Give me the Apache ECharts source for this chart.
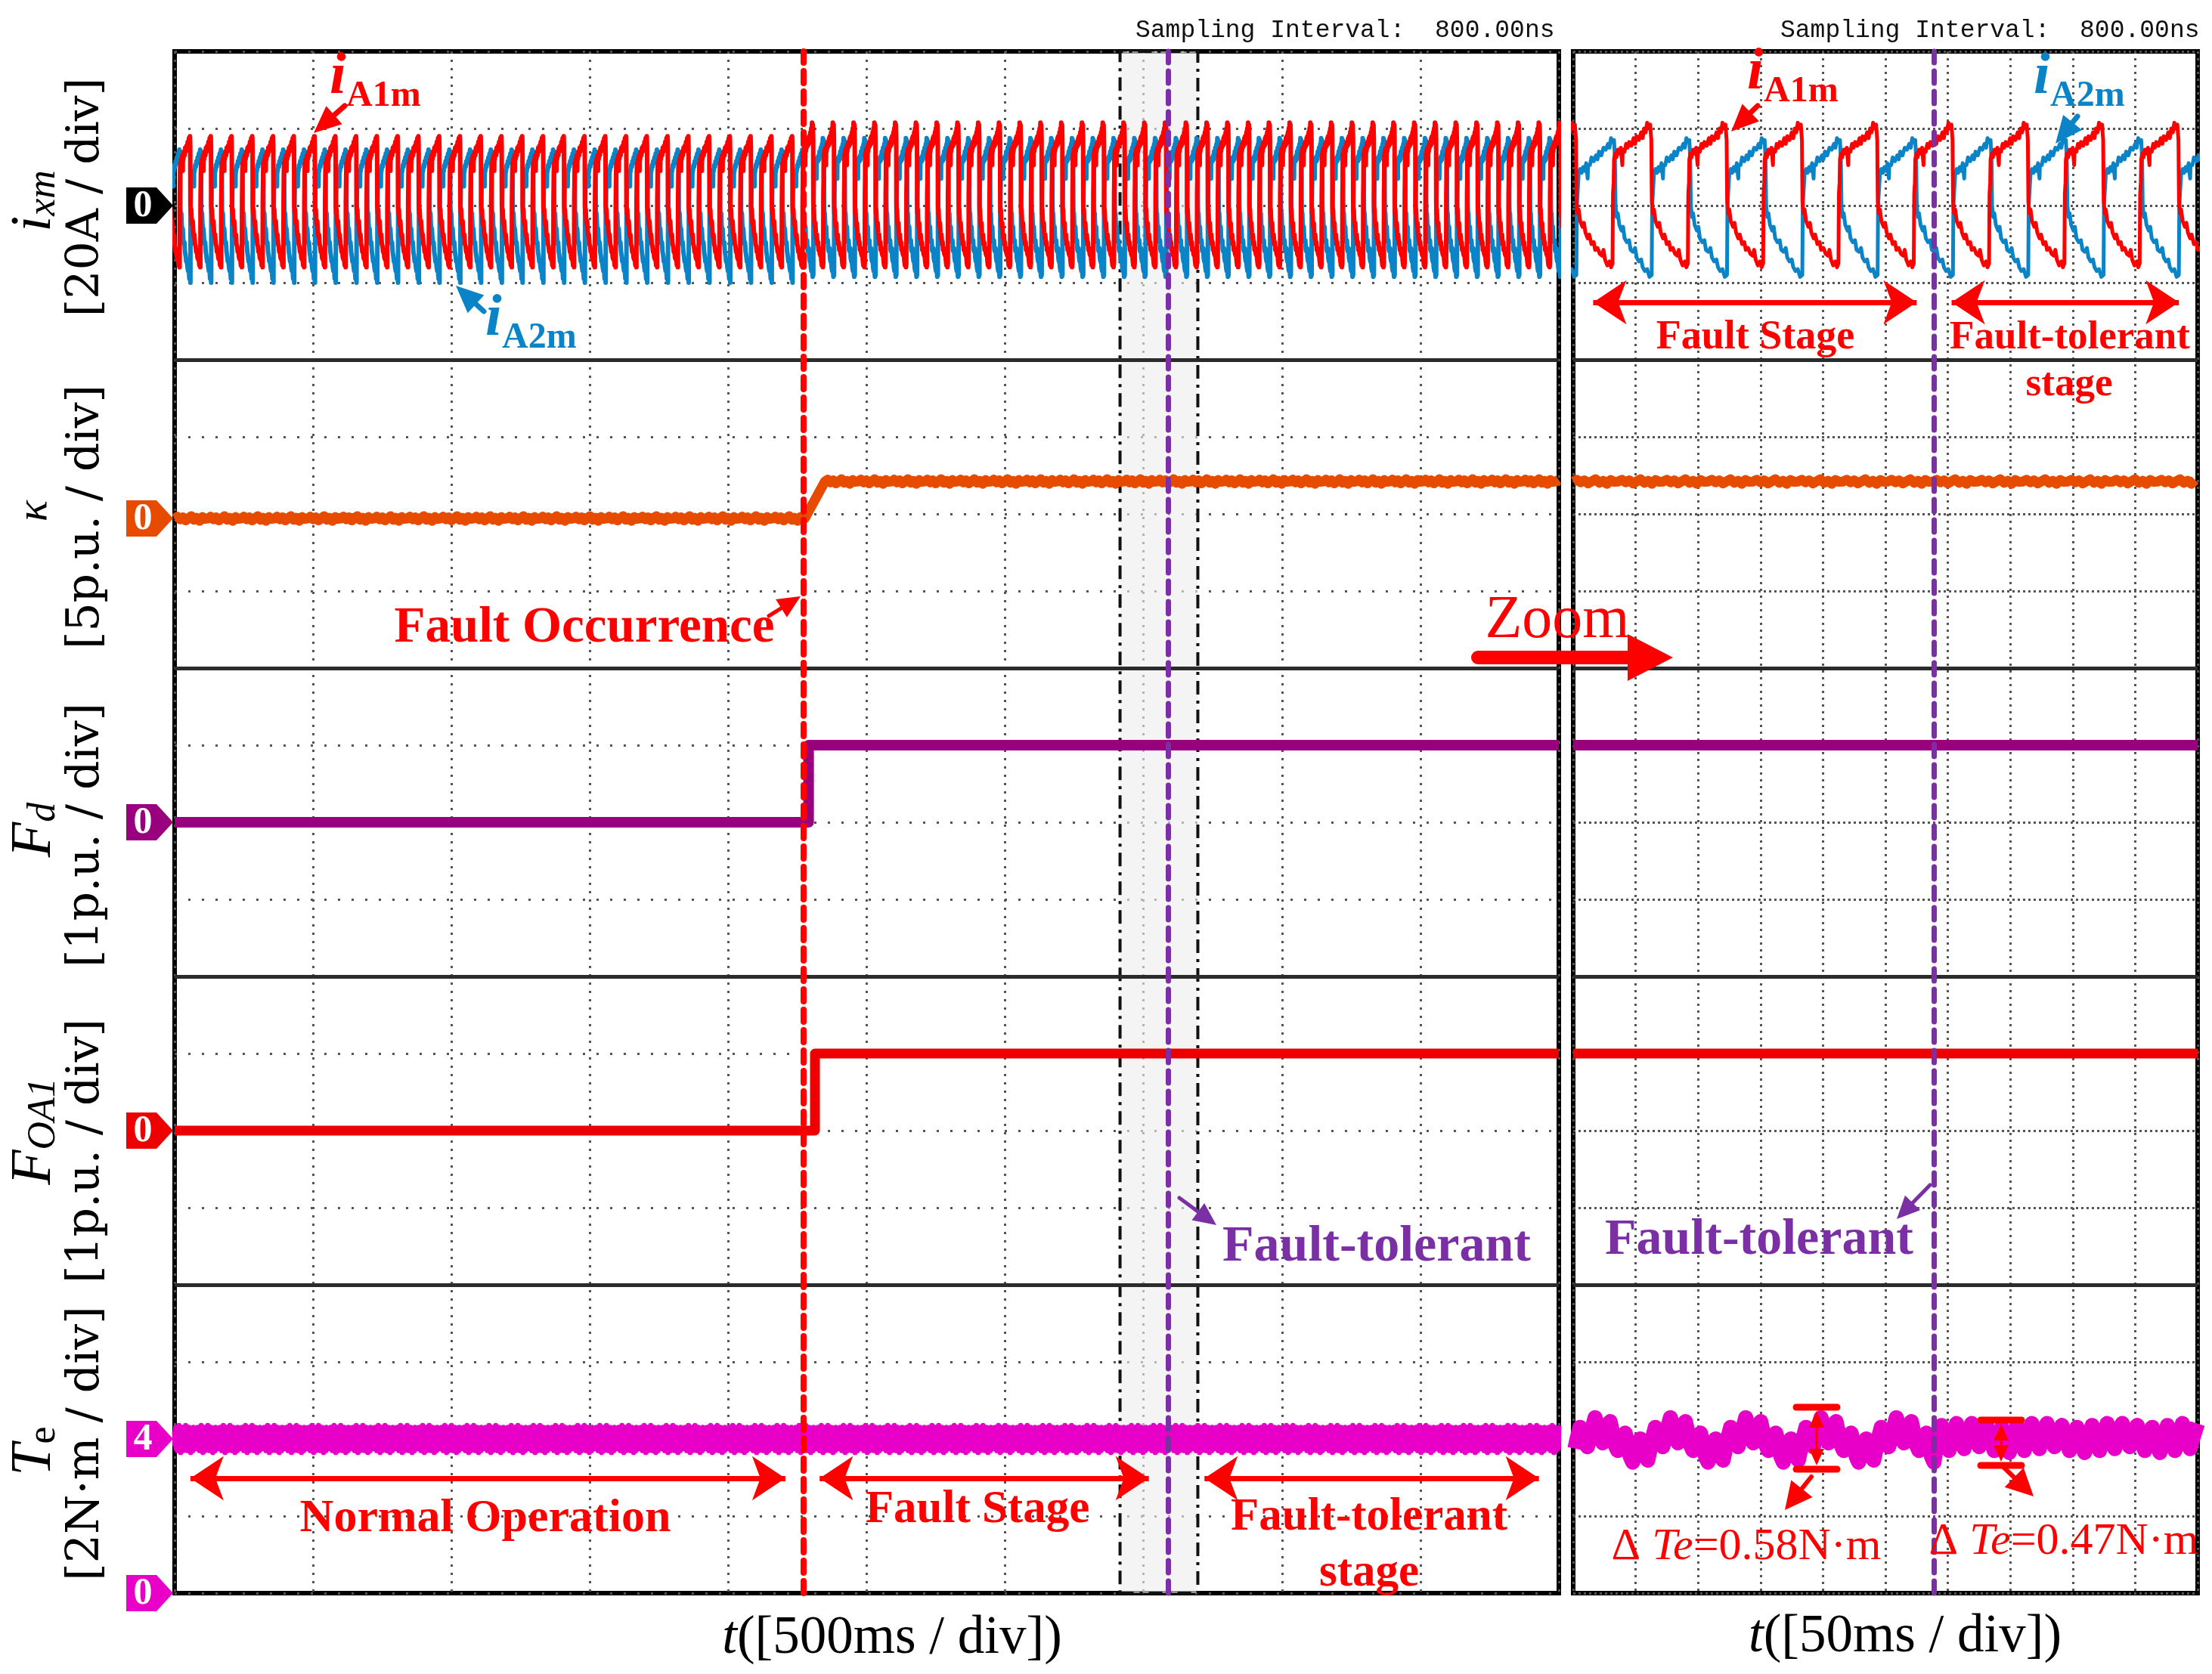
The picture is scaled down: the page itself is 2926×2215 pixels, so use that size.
<!DOCTYPE html>
<html><head><meta charset="utf-8">
<script src="https://cdn.jsdelivr.net/npm/echarts@6/dist/echarts.min.js"></script>
<style>html,body{margin:0;padding:0;background:#fff}#c{width:2926px;height:2215px}</style>
</head><body><div id="c"></div>
<script>
// ================= DATA =================
// time axes, ms
const mainSpanMs = 5000, mainDivMs = 500;
const zoomSpanMs = 500, zoomDivMs = 50;
const faultTimeMain = 2272;        // red dashed line
const tolerantTimeMain = 3590;     // purple dashed line (main)
const tolerantTimeZoom = 289;      // purple dashed line (zoom)
const zoomBoxMain = [3415, 3696];  // dash-dot box

// phase-current cycle shapes: [fraction of period, current in A]
const iA1mPreCycle = [[0,-16],[0.006,1],[0.015,5],[0.025,9],[0.04,11],[0.06,10],[0.08,12],[0.1,11],[0.13,13],[0.15,9],[0.155,12.5],[0.18,12],[0.21,14],[0.24,13],[0.27,15],[0.3,14],[0.33,15.5],[0.36,14.5],[0.39,16.5],[0.42,15.5],[0.45,17.5],[0.48,17],[0.5,18],[0.512,15],[0.52,0],[0.54,-2],[0.56,-1],[0.58,-4],[0.61,-5],[0.63,-4],[0.66,-7],[0.69,-8],[0.71,-7.5],[0.74,-10],[0.77,-10.5],[0.8,-12],[0.83,-11.5],[0.86,-13.5],[0.89,-14],[0.92,-13.5],[0.95,-15.5],[0.98,-15],[1,-16]];
const iA2mPreCycle = [[0,-20],[0.006,-2],[0.015,2],[0.025,5],[0.045,7],[0.07,6],[0.09,8],[0.12,7.5],[0.15,9],[0.17,5],[0.175,8.5],[0.2,9],[0.23,10.5],[0.26,10],[0.29,11.5],[0.32,11],[0.35,12.5],[0.38,12],[0.41,13.5],[0.44,13],[0.47,14.5],[0.5,14],[0.512,10],[0.52,-1],[0.54,-3],[0.56,-2],[0.58,-5],[0.61,-7],[0.63,-6],[0.66,-9],[0.69,-10],[0.71,-9.5],[0.74,-12],[0.77,-13],[0.8,-14.5],[0.83,-14],[0.86,-16],[0.89,-17],[0.92,-16.5],[0.95,-19],[0.98,-18.5],[1,-20]];
const iA1mCycle = [[0,-15],[0.006,3],[0.015,6],[0.02,12],[0.035,13.5],[0.05,12.5],[0.07,14.5],[0.09,13.5],[0.11,15],[0.13,10.5],[0.135,14.5],[0.16,14],[0.18,16],[0.2,15],[0.22,16.5],[0.25,15.5],[0.28,17.5],[0.3,16],[0.32,18],[0.35,17],[0.38,19],[0.4,17.5],[0.42,20],[0.44,19],[0.46,21.5],[0.48,20],[0.5,21],[0.515,17],[0.522,1],[0.535,-2],[0.55,-1],[0.57,-4],[0.6,-5.5],[0.62,-4.5],[0.64,-7],[0.67,-8.5],[0.69,-7.5],[0.72,-10],[0.75,-9.5],[0.77,-11.5],[0.8,-11],[0.83,-12.5],[0.86,-13],[0.88,-11.5],[0.9,-14],[0.93,-15.5],[0.96,-14.5],[0.98,-16],[1,-15]];
const iA2mCycle = [[0,-18],[0.006,0],[0.015,3],[0.03,8],[0.05,9.5],[0.07,8.5],[0.09,10],[0.11,9],[0.13,11],[0.15,7],[0.155,10.5],[0.18,10.5],[0.2,12.5],[0.23,11.5],[0.26,13],[0.28,12],[0.3,14],[0.33,13],[0.36,15],[0.39,14.5],[0.42,16],[0.44,15],[0.46,17.5],[0.48,16.5],[0.5,17],[0.512,12],[0.52,0],[0.535,-3],[0.55,-2],[0.57,-5],[0.6,-6.5],[0.62,-5.5],[0.64,-8.5],[0.67,-9.5],[0.7,-9],[0.72,-11.5],[0.75,-12],[0.78,-11],[0.8,-13.5],[0.83,-14.5],[0.86,-14],[0.88,-16],[0.91,-17],[0.94,-16.5],[0.97,-18.5],[1,-18]];
const currentPeriodMain = 75, currentPeriodZoom = 60.3;   // ms
const iA1mFirstEdgeMain = 18, iA1mFirstEdgeZoom = 31.5;   // ms
const iA2mLagFraction = 0.52;

// kappa  [ms, p.u.]
const kLevels = [0, 2.4];
const kRampMain = [2276, 2349];
const kJitter = [0, 0.12, -0.05, 0.08, -0.12, 0.02, 0.15, -0.08, 0.05, -0.15, 0.1, -0.02];

// flags  [ms, p.u.]
const fdMain = [[0,0],[2290,0],[2290,1],[5000,1]];
const fdZoom = [[0,1],[500,1]];
const foa1Main = [[0,0],[2313,0],[2313,1],[5000,1]];
const foa1Zoom = [[0,1],[500,1]];

// torque  [N·m]
const teMean = 4.0;
const teNoiseMain = [0.2,-0.15,0.3,-0.25,0.1,-0.3,0.25,-0.1,0.35,-0.2,0.05,-0.35,0.15,-0.05,0.3,-0.3,0.2,-0.15,0.1,-0.25,0.35,-0.1,0.2,-0.3,0.05,-0.2,0.3,-0.15,0.25,-0.35,0.1,-0.05,0.2,-0.3,0.3,-0.2,0.15,-0.1,0.25,-0.25];
const teRippleFault = [0.3,0.55,0.35,0.05,-0.1,0.1, 0.25,0.45,0.15,-0.15,-0.3,-0.1, 0.0,0.15,-0.1,-0.45,-0.6,-0.35, -0.15,0.0,-0.2,-0.45,-0.55,-0.25, 0.05,0.3,0.15,-0.1,-0.2,0.05];
const teRippleTolerant = [0.2,0.4,0.25,-0.05,-0.2,0.0, 0.15,0.35,0.15,-0.1,-0.3,-0.1, 0.05,0.3,0.1,-0.2,-0.35,-0.15, 0.1,0.35,0.2,-0.1,-0.3,-0.05, 0.15,0.4,0.2,-0.05,-0.25,0.0];
const teRipplePeriodZoom = 60.3, teRippleFirstPeakZoom = 17.5;

// tick / label texts
const panelSymbols = ['{m|i}{s|xm}', '{k|κ}', '{m|F}{s|d}', '{m|F}{s|OA1}', '{m|T}{e|e}'];
const panelScales = ['[20A / div]', '[5p.u. / div]', '[1p.u. / div]', '[1p.u. / div]', '[2N·m / div]'];
const xTitles = ['([500ms / div])', '([50ms / div])'];
const samplingText = 'Sampling Interval:  800.00ns';

// ================= LAYOUT / STYLE =================
const mainL = 231, mainW = 1831, zoomL = 2081, zoomW = 826, top0 = 68, panelH = 408;
const RED = '#ff0000', BLUE = '#0a84c6', ORANGE = '#e64b00', PURP_F = '#98007e', RED_F = '#ee0000', MAG = '#e800c8', PURP = '#7b2fa5';
const SERIF = '"Liberation Serif", "DejaVu Serif", serif';

function tile(cycle, t0, period, from, to) {
  const out = [];
  let k = Math.floor((from - t0) / period) - 1;
  while (true) {
    const base = t0 + k * period;
    if (base > to + period) break;
    for (let j = 0; j < cycle.length - 1; j++) out.push([base + cycle[j][0] * period, cycle[j][1]]);
    k++;
  }
  return out;
}
function ripple(level, values, step, start, from, to) {
  const out = [];
  for (let i = 0; ; i++) {
    const t = start + i * step;
    if (t > to) break;
    if (t >= from) out.push([t, level + values[i % values.length]]);
  }
  return out;
}

// currents main
const a1Main = tile(iA1mPreCycle, iA1mFirstEdgeMain, currentPeriodMain, 0, faultTimeMain).filter(p => p[0] <= faultTimeMain)
  .concat(tile(iA1mCycle, iA1mFirstEdgeMain, currentPeriodMain, faultTimeMain, mainSpanMs).filter(p => p[0] > faultTimeMain));
const a2Start = iA1mFirstEdgeMain + iA2mLagFraction * currentPeriodMain;
const a2Main = tile(iA2mPreCycle, a2Start, currentPeriodMain, 0, faultTimeMain).filter(p => p[0] <= faultTimeMain)
  .concat(tile(iA2mCycle, a2Start, currentPeriodMain, faultTimeMain, mainSpanMs).filter(p => p[0] > faultTimeMain));
const a1Zoom = tile(iA1mCycle, iA1mFirstEdgeZoom, currentPeriodZoom, 0, zoomSpanMs);
const a2Zoom = tile(iA2mCycle, iA1mFirstEdgeZoom + iA2mLagFraction * currentPeriodZoom, currentPeriodZoom, 0, zoomSpanMs);
// kappa
const kMain = ripple(kLevels[0], kJitter, 10, 0, 0, kRampMain[0])
  .concat([[kRampMain[0], kLevels[0]], [kRampMain[1], kLevels[1]]])
  .concat(ripple(kLevels[1], kJitter, 10, kRampMain[1], kRampMain[1], mainSpanMs));
const kZoom = ripple(kLevels[1], kJitter, 3, 0, 0, zoomSpanMs);
// torque
const teMain = ripple(teMean, teNoiseMain, 2, 0, 0, mainSpanMs);
const teStep = teRipplePeriodZoom / teRippleFault.length;
const teStart = teRippleFirstPeakZoom - teStep - teRipplePeriodZoom;
const teZoom = ripple(teMean, teRippleFault, teStep, teStart, 0, tolerantTimeZoom)
  .concat(ripple(teMean, teRippleTolerant, teStep, teStart, tolerantTimeZoom, zoomSpanMs).filter(p => p[0] > tolerantTimeZoom));

// ================= CHART =================
const chart = echarts.init(document.getElementById('c'), null, {renderer: 'canvas', width: 2926, height: 2215});

const grids = [
  {left: mainL, top: top0, width: mainW, height: panelH * 5, show: true, borderColor: '#000', borderWidth: 6, backgroundColor: 'transparent'},
  {left: zoomL, top: top0, width: zoomW, height: panelH * 5, show: true, borderColor: '#000', borderWidth: 6, backgroundColor: 'transparent'}
];
for (let side = 0; side < 2; side++) for (let p = 0; p < 5; p++)
  grids.push({left: side ? zoomL : mainL, top: top0 + p * panelH, width: side ? zoomW : mainW, height: panelH});

const hidden = {show: false};
const xAxes = [
  {gridIndex: 0, type: 'value', min: 0, max: mainSpanMs, interval: mainDivMs, axisLine: hidden, axisTick: hidden, axisLabel: hidden,
   splitLine: {show: true, lineStyle: {color: '#555', width: 3, type: [3, 8]}}},
  {gridIndex: 1, type: 'value', min: 0, max: zoomSpanMs, interval: zoomDivMs, axisLine: hidden, axisTick: hidden, axisLabel: hidden,
   splitLine: {show: true, lineStyle: {color: '#555', width: 3, type: [3, 6]}}}
];
const yAxes = [
  {gridIndex: 0, type: 'value', min: 0, max: 20, interval: 1, axisLine: hidden, axisTick: hidden, axisLabel: hidden,
   splitLine: {show: true, lineStyle: {color: '#555', width: 3, type: [3, 15]}}},
  {gridIndex: 1, type: 'value', min: 0, max: 20, interval: 1, axisLine: hidden, axisTick: hidden, axisLabel: hidden,
   splitLine: {show: true, lineStyle: {color: '#555', width: 3, type: [3, 4]}}}
];
const panelRanges = [[-40, 40], [-9.7, 10.3], [-2, 2], [-2, 2], [0, 8]];
for (let side = 0; side < 2; side++) for (let p = 0; p < 5; p++) {
  const gi = 2 + side * 5 + p;
  xAxes.push({gridIndex: gi, type: 'value', min: 0, max: side ? zoomSpanMs : mainSpanMs, show: false});
  yAxes.push({gridIndex: gi, type: 'value', min: panelRanges[p][0], max: panelRanges[p][1], show: false});
}
const AX = (side, p) => 2 + side * 5 + p;

function zeroMarks(color, items) {
  return {
    symbol: 'path://M0,0L40,0L62,24L40,48L0,48Z', symbolSize: [62, 48], symbolKeepAspect: false,
    symbolOffset: [-33, 0], silent: true, itemStyle: {color},
    label: {show: true, position: 'inside', offset: [-9, 1], formatter: '{b}', color: '#fff', fontSize: 50, fontFamily: SERIF, fontWeight: 'bold'},
    data: items.map(([y, n]) => ({name: n, coord: [0, y]}))
  };
}
function trace(side, p, data, color, width, extra) {
  return Object.assign({
    type: 'line', xAxisIndex: AX(side, p), yAxisIndex: AX(side, p), data, showSymbol: false, symbol: 'none',
    lineStyle: {color, width, join: 'round'}, itemStyle: {color}, z: 2, silent: true, animation: false
  }, extra || {});
}
function arrowLine(pairs, color) {
  return {silent: true, symbol: ['arrow', 'arrow'], symbolSize: 44, label: {show: false},
    lineStyle: {color, width: 7, type: 'solid'}, data: pairs.map(([a, b, y]) => [{coord: [a, y]}, {coord: [b, y]}])};
}

const series = [
  // panel separators
  {type: 'line', xAxisIndex: 0, yAxisIndex: 0, data: [], z: 1, silent: true,
   markLine: {silent: true, symbol: 'none', label: {show: false}, lineStyle: {color: '#2b2b2b', width: 5, type: 'solid'},
     data: [{yAxis: 4}, {yAxis: 8}, {yAxis: 12}, {yAxis: 16}]}},
  {type: 'line', xAxisIndex: 1, yAxisIndex: 1, data: [], z: 1, silent: true,
   markLine: {silent: true, symbol: 'none', label: {show: false}, lineStyle: {color: '#2b2b2b', width: 5, type: 'solid'},
     data: [{yAxis: 4}, {yAxis: 8}, {yAxis: 12}, {yAxis: 16}]}},
  // main traces
  trace(0, 0, a2Main, BLUE, 6, {markPoint: zeroMarks('#000', [[0, '0']])}),
  trace(0, 0, a1Main, RED, 6),
  trace(0, 1, kMain, ORANGE, 13, {markPoint: zeroMarks(ORANGE, [[0, '0']])}),
  trace(0, 2, fdMain, PURP_F, 14, {markPoint: zeroMarks(PURP_F, [[0, '0']])}),
  trace(0, 3, foa1Main, RED_F, 13, {markPoint: zeroMarks(RED_F, [[0, '0']])}),
  trace(0, 4, teMain, MAG, 7, {markPoint: zeroMarks(MAG, [[4, '4'], [0, '0']]),
    markLine: arrowLine([[57, 2206, 2.98], [2330, 3519, 2.98], [3720, 4928, 2.98]], RED)}),
  // zoom traces
  trace(1, 0, a2Zoom, BLUE, 5),
  trace(1, 0, a1Zoom, RED, 5, {markLine: arrowLine([[16, 275, -25.1], [303, 485, -25.1]], RED)}),
  trace(1, 1, kZoom, ORANGE, 13),
  trace(1, 2, fdZoom, PURP_F, 14),
  trace(1, 3, foa1Zoom, RED_F, 13),
  trace(1, 4, teZoom, MAG, 20),
  // dash-dot zoom box with faded overlay
  {type: 'line', xAxisIndex: 0, yAxisIndex: 0, data: [], z: 5, silent: true,
   markArea: {silent: true, itemStyle: {color: 'rgba(238,238,238,0.62)', borderColor: '#111', borderWidth: 4, borderType: [18, 8, 4, 8]},
     data: [[{xAxis: zoomBoxMain[0], yAxis: 0}, {xAxis: zoomBoxMain[1], yAxis: 20}]]}},
  // event lines
  {type: 'line', xAxisIndex: 0, yAxisIndex: 0, data: [], z: 6, silent: true,
   markLine: {silent: true, symbol: 'none', label: {show: false},
     data: [{xAxis: faultTimeMain, lineStyle: {color: RED, width: 8, type: [16, 11], cap: 'round'}},
            {xAxis: tolerantTimeMain, lineStyle: {color: PURP, width: 7, type: [16, 11], cap: 'round'}}]}},
  {type: 'line', xAxisIndex: 1, yAxisIndex: 1, data: [], z: 6, silent: true,
   markLine: {silent: true, symbol: 'none', label: {show: false},
     data: [{xAxis: tolerantTimeZoom, lineStyle: {color: PURP, width: 7, type: [16, 11], cap: 'round'}}]}}
];

// ================= ANNOTATIONS (graphic) =================
const G = [];
function txt(x, y, text, font, fill, o) {
  o = o || {};
  const st = {text, font, fill, align: o.align || 'center', textAlign: o.align || 'center',
    verticalAlign: o.va || 'middle', textVerticalAlign: o.va || 'middle'};
  if (o.rich) st.rich = o.rich;
  G.push({type: 'text', x, y, rotation: o.rot || 0, z: 30, silent: true, style: st});
}
function arrow(x1, y1, x2, y2, color, w, hl, hw) {
  const dx = x2 - x1, dy = y2 - y1, L = Math.hypot(dx, dy), ux = dx / L, uy = dy / L;
  const bx = x2 - ux * hl, by = y2 - uy * hl, px = -uy, py = ux;
  G.push({type: 'line', z: 30, silent: true, shape: {x1, y1, x2: bx + ux * 2, y2: by + uy * 2}, style: {stroke: color, lineWidth: w, lineCap: 'round'}});
  G.push({type: 'polygon', z: 30, silent: true, shape: {points: [[x2, y2], [bx + px * hw / 2, by + py * hw / 2], [bx - px * hw / 2, by - py * hw / 2]]}, style: {fill: color}});
}
function ibar(x, yt, yb, color) {
  G.push({type: 'line', z: 30, silent: true, shape: {x1: x - 27, y1: yt, x2: x + 27, y2: yt}, style: {stroke: color, lineWidth: 9, lineCap: 'round'}});
  G.push({type: 'line', z: 30, silent: true, shape: {x1: x - 27, y1: yb, x2: x + 27, y2: yb}, style: {stroke: color, lineWidth: 9, lineCap: 'round'}});
  const m = (yt + yb) / 2;
  arrow(x, m, x, yt + 5, color, 3, 22, 20);
  arrow(x, m, x, yb - 5, color, 3, 22, 20);
}

// y-axis labels (rotated)
const symRich = {
  m: {font: 'italic 76px ' + SERIF, fill: '#000', color: '#000', verticalAlign: 'middle'},
  s: {font: 'italic 52px ' + SERIF, fill: '#000', color: '#000', verticalAlign: 'bottom', padding: [22, 0, 0, 0]},
  e: {font: '52px ' + SERIF, fill: '#000', color: '#000', verticalAlign: 'bottom', padding: [22, 0, 0, 0]},
  k: {font: 'italic 58px ' + SERIF, fill: '#000', color: '#000'}
};
const symY = [266, 676, 1098, 1497, 1920];
const scaleY = [261, 684, 1105, 1523, 1910];
for (let p = 0; p < 5; p++) {
  txt(46, symY[p], panelSymbols[p], '76px ' + SERIF, '#000', {rot: Math.PI / 2, rich: symRich});
  txt(114, scaleY[p], panelScales[p], '60px "DejaVu Serif"', '#000', {rot: Math.PI / 2});
}
// x titles
const xtRich = {it: {font: 'italic 71px ' + SERIF, fill: '#000', color: '#000'}, n: {font: '71px ' + SERIF, fill: '#000', color: '#000'}};
txt(1180, 2168, '{it|t}{n|' + xTitles[0] + '}', '71px ' + SERIF, '#000', {rich: xtRich});
txt(2520, 2166, '{it|t}{n|' + xTitles[1] + '}', '71px ' + SERIF, '#000', {rich: xtRich});
// sampling interval
txt(1502, 40, samplingText, '33px "Liberation Mono", "DejaVu Sans Mono", monospace', '#111', {align: 'left'});
txt(2355, 40, samplingText, '33px "Liberation Mono", "DejaVu Sans Mono", monospace', '#111', {align: 'left'});

// current labels
function curLabel(x, yb, sub, color) {
  txt(x, yb, 'i', 'italic bold 78px ' + SERIF, color, {align: 'left', va: 'bottom'});
  txt(x + 22, yb + 10, sub, 'bold 48px ' + SERIF, color, {align: 'left', va: 'bottom'});
}
curLabel(436, 142, 'A1m', RED);
arrow(456, 140, 415, 176, RED, 7, 36, 32);
curLabel(642, 462, 'A2m', BLUE);
arrow(640, 412, 603, 378, BLUE, 7, 36, 32);
curLabel(2311, 136, 'A1m', RED);
arrow(2325, 140, 2290, 174, RED, 7, 36, 32);
curLabel(2690, 142, 'A2m', BLUE);
arrow(2748, 154, 2719, 190, BLUE, 7, 36, 32);

// fault occurrence
txt(773, 832, 'Fault Occurrence', 'bold 67px ' + SERIF, RED);
arrow(1017, 815, 1059, 789, RED, 5, 30, 28);
// zoom arrow
txt(2060, 822, 'Zoom', '80px ' + SERIF, RED);
arrow(1955, 870, 2213, 870, RED, 18, 60, 62);
// fault tolerant (purple)
txt(1821, 1650, 'Fault-tolerant', 'bold 68px ' + SERIF, PURP);
arrow(1560, 1585, 1609, 1621, PURP, 5, 30, 28);
txt(2327, 1641, 'Fault-tolerant', 'bold 68px ' + SERIF, PURP);
arrow(2553, 1568, 2509, 1613, PURP, 5, 30, 28);
// stage labels main
txt(642, 2010, 'Normal Operation', 'bold 62px ' + SERIF, RED);
txt(1293, 1998, 'Fault Stage', 'bold 61px ' + SERIF, RED);
txt(1811, 2008, 'Fault-tolerant', 'bold 61px ' + SERIF, RED);
txt(1811, 2082, 'stage', 'bold 61px ' + SERIF, RED);
// stage labels zoom
txt(2322, 447, 'Fault Stage', 'bold 54px ' + SERIF, RED);
txt(2738, 447, 'Fault-tolerant', 'bold 53px ' + SERIF, RED);
txt(2737, 509, 'stage', 'bold 53px ' + SERIF, RED);
// torque ripple annotations
ibar(2403, 1862, 1944, RED);
arrow(2396, 1954, 2361, 1998, RED, 6, 36, 36);
ibar(2647, 1879, 1939, RED);
arrow(2651, 1942, 2690, 1980, RED, 6, 36, 36);
const dRich = {n: {font: '60px ' + SERIF, fill: RED, color: RED}, it: {font: 'italic 60px ' + SERIF, fill: RED, color: RED}};
txt(2310, 2047, '{n|Δ }{it|Te}{n|=0.58N·m}', '60px ' + SERIF, RED, {rich: dRich});
txt(2730, 2040, '{n|Δ }{it|Te}{n|=0.47N·m}', '60px ' + SERIF, RED, {rich: dRich});

chart.setOption({
  animation: false,
  backgroundColor: '#fff',
  grid: grids, xAxis: xAxes, yAxis: yAxes, series, graphic: {elements: G}
});
</script></body></html>
